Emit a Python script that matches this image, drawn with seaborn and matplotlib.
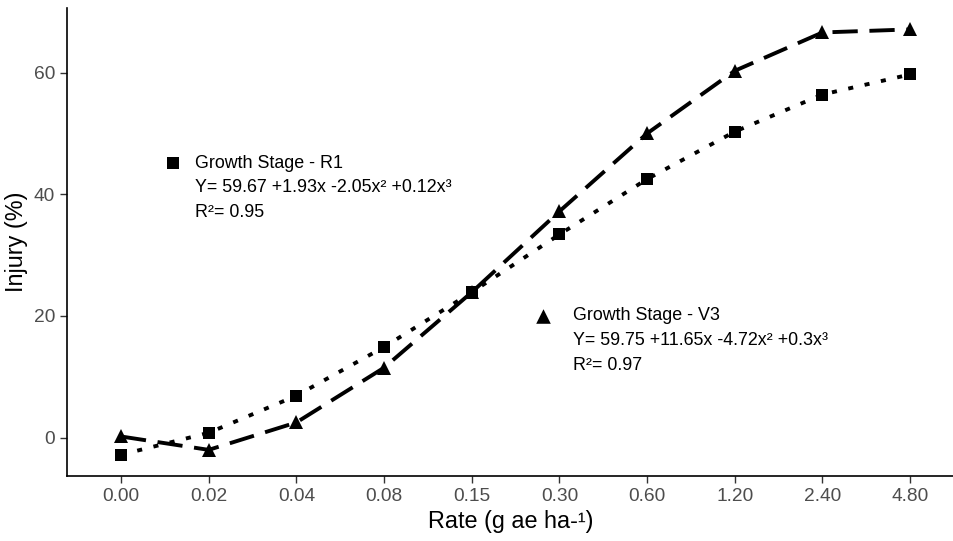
import matplotlib
matplotlib.use("Agg")
import matplotlib.pyplot as plt
import seaborn as sns
import pandas as pd

rates = ["0.00", "0.02", "0.04", "0.08", "0.15", "0.30", "0.60", "1.20", "2.40", "4.80"]
r1_injury = [-2.8, 0.8, 6.9, 14.9, 23.9, 33.4, 42.5, 50.3, 56.4, 59.7]
v3_injury = [0.2, -2.0, 2.5, 11.5, 23.9, 37.2, 50.0, 60.3, 66.6, 67.1]

r1_label = ["Growth Stage - R1", "Y= 59.67 +1.93x -2.05x² +0.12x³", "R²= 0.95"]
v3_label = ["Growth Stage - V3", "Y= 59.75 +11.65x -4.72x² +0.3x³", "R²= 0.97"]

sns.set_theme(style="ticks")
plt.rcParams["font.family"] = ["Liberation Sans", "DejaVu Sans"]

df_r1 = pd.DataFrame({"rate": rates, "injury": r1_injury})
df_v3 = pd.DataFrame({"rate": rates, "injury": v3_injury})

fig = plt.figure(figsize=(9.54, 5.41), dpi=100)
ax = fig.add_axes([0.0702, 0.1201, 0.9298, 0.8649])

sns.lineplot(data=df_v3, x="rate", y="injury", ax=ax, color="black",
             linewidth=2.8, linestyle=(0, (6.5, 3)), marker="^", markersize=10,
             markeredgewidth=0, sort=False)
sns.lineplot(data=df_r1, x="rate", y="injury", ax=ax, color="black",
             linewidth=2.8, linestyle=(0, (1.3, 3)), marker="s", markersize=9,
             markeredgewidth=0, sort=False)

ax.set_xlim(-0.616, 9.5)
ax.set_ylim(-6.3, 70.6)
ax.set_yticks([0, 20, 40, 60])
ax.set_xlabel("Rate (g ae ha-¹)", fontsize=16.8, color="black")
ax.set_ylabel("Injury (%)", fontsize=16.8, color="black")
ax.tick_params(axis="both", labelsize=13.8, labelcolor="#4D4D4D", color="#333333",
               length=5, width=1)
for s in ["top", "right"]:
    ax.spines[s].set_visible(False)
for s in ["left", "bottom"]:
    ax.spines[s].set_color("black")
    ax.spines[s].set_linewidth(1.2)

# annotations
sns.scatterplot(x=[0.593], y=[45.1], marker="s", s=85, color="black", ax=ax, linewidth=0)
for txt, yy in zip(r1_label, [45.1, 41.1, 37.0]):
    ax.text(0.844, yy, txt, fontsize=12.9, va="center", ha="left", color="black")
sns.scatterplot(x=[4.81], y=[20.0], marker="^", s=110, color="black", ax=ax, linewidth=0)
for txt, yy in zip(v3_label, [20.0, 15.9, 11.8]):
    ax.text(5.156, yy, txt, fontsize=12.9, va="center", ha="left", color="black")

fig.savefig("out.png", dpi=100)
